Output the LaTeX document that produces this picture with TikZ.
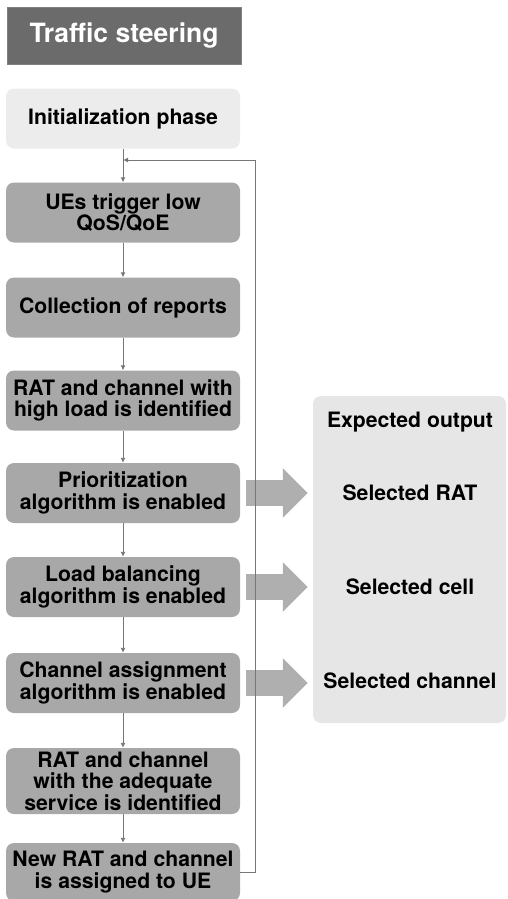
\documentclass[tikz,border=0pt]{standalone}
\usepackage{fontspec}
\setmainfont{TeX Gyre Heros}
\usetikzlibrary{arrows.meta}
\usepackage{xcolor}

\definecolor{titlegray}{HTML}{6B6B6B}
\definecolor{stepgray}{HTML}{A8A8A8}
\definecolor{initgray}{HTML}{ECECEC}
\definecolor{outgray}{HTML}{E6E6E6}
\definecolor{linegray}{HTML}{777777}
\definecolor{arrowgray}{HTML}{AFAFAF}

\begin{document}
\begin{tikzpicture}[x=1pt, y=-1pt,
    stepbox/.style={fill=stepgray, rounded corners=8pt, minimum width=234pt,
        minimum height=60pt, inner sep=0pt, align=center,
        font=\fontsize{21.2}{21.5}\selectfont\bfseries},
    outtext/.style={font=\fontsize{21.2}{21.5}\selectfont\bfseries},
    flow/.style={draw=linegray, line width=0.9pt, -{Latex[length=5pt,width=5pt]}},
    bigarrow/.style={draw=arrowgray, line width=26pt,
        -{Triangle[length=25pt,width=48pt]}, shorten >=5pt}]
    \useasboundingbox (0,0) rectangle (508,899);

    % Title
    \node[fill=titlegray, draw=gray, minimum width=234pt, minimum height=57pt,
        text=white, font=\fontsize{26.5}{28}\selectfont\bfseries] (title) at (124,35.5) {Traffic steering};

    % Steps
    \node[stepbox, fill=initgray] (init) at (123,118.5) {Initialization phase};
    \node[stepbox] (ues) at (123,212.5) {UEs trigger low\\QoS/QoE};
    \node[stepbox] (coll) at (123,307.5) {Collection of reports};
    \node[stepbox] (high) at (123,400.5) {RAT and channel with\\high load is identified};
    \node[stepbox] (prio) at (123,493) {Prioritization\\algorithm is enabled};
    \node[stepbox] (load) at (123,587) {Load balancing\\algorithm is enabled};
    \node[stepbox] (chan) at (123,683) {Channel assignment\\algorithm is enabled};
    \node[stepbox, minimum height=66pt] (adeq) at (123,781) {RAT and channel\\with the adequate\\service is identified};
    \node[stepbox, minimum height=58pt] (new) at (123,872) {New RAT and channel\\is assigned to UE};

    \foreach \a/\b in {init/ues, ues/coll, coll/high, high/prio, prio/load, load/chan, chan/adeq, adeq/new} {
        \draw[flow] (\a) -- (\b);
    }

    % Expected output
    \node[fill=outgray, rounded corners=8pt, minimum width=193pt, minimum height=327pt] (outbox) at (409.5,559.5) {};
    \node[outtext] (outhead) at (410,422) {Expected output};
    \node[outtext] (selrat) at (410,493) {Selected RAT};
    \node[outtext] (selcell) at (410,587) {Selected cell};
    \node[outtext] (selchan) at (410,681) {Selected channel};

    \foreach \s in {prio, load, chan} {
        \draw[bigarrow] ([xshift=6pt]\s.east) -- (\s.east -| outbox.west);
    }

    % Loop back
    \coordinate (join) at (123,160);
    \draw[flow] (new.east) -- ++(15,0) |- (join);
\end{tikzpicture}
\end{document}
